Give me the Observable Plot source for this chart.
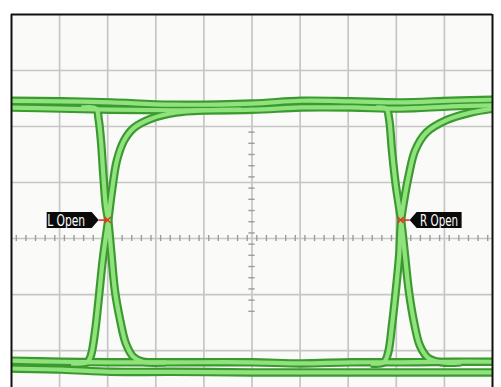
<!DOCTYPE html>
<html>
<head>
<meta charset="utf-8">
<script src="https://cdn.jsdelivr.net/npm/d3@7"></script>
<script src="https://cdn.jsdelivr.net/npm/@observablehq/plot@0.6"></script>
<style>
  html, body { margin: 0; padding: 0; background: #ffffff; }
  #chart svg { display: block; }
</style>
</head>
<body>
<div id="chart"></div>
<script>
// Screen coordinates in divisions (10 horizontal, centre = 0)
const gridX = [-4, -3, -2, -1, 0, 1, 2, 3, 4];
const gridY = [-2, -1, 0, 1, 2, 3];
const minorX = d3.range(-49, 50, 2).map(v => v / 10).filter(v => Math.abs(v - Math.round(v)) > 1e-6);
const minorY = d3.range(-13, 20, 2).map(v => v / 10).filter(v => Math.abs(v - Math.round(v)) > 1e-6);

// Eye-diagram traces (x, y in divisions)
const highA = [[-5.1,2.46],[-3.97,2.45],[-2.93,2.43],[-1.68,2.39],[0.0,2.41],[1.02,2.46],[2.06,2.45],[3.10,2.43],[4.14,2.46],[5.1,2.48]];
const highB = [[-5.1,2.34],[-3.97,2.32],[-2.93,2.30],[-1.68,2.29],[0.0,2.30],[1.02,2.34],[2.06,2.34],[3.10,2.32],[4.14,2.36],[5.1,2.38]];
const lowA  = [[-5.1,-2.18],[-3.97,-2.20],[-2.93,-2.21],[-1.68,-2.21],[0.0,-2.21],[1.02,-2.23],[2.06,-2.21],[3.10,-2.21],[4.14,-2.20],[5.1,-2.20]];
const lowB  = [[-5.1,-2.32],[-3.97,-2.34],[-2.93,-2.38],[-1.68,-2.38],[0.0,-2.39],[1.02,-2.39],[2.06,-2.39],[3.10,-2.39],[4.14,-2.39],[5.1,-2.39]];
const fallL = [[-3.55,2.34],[-3.24,2.32],[-3.19,2.14],[-3.14,1.75],[-3.09,1.13],[-3.04,0.59],[-2.99,0.32],[-2.93,-0.21],[-2.85,-0.93],[-2.74,-1.46],[-2.62,-1.88],[-2.47,-2.11],[-2.27,-2.20],[-1.79,-2.21]];
const riseL = [[-3.76,-2.23],[-3.43,-2.21],[-3.35,-2.09],[-3.26,-1.64],[-3.18,-1.02],[-3.10,-0.36],[-2.99,0.32],[-2.91,0.86],[-2.81,1.39],[-2.66,1.75],[-2.45,1.98],[-2.10,2.14],[-1.58,2.25],[-0.96,2.29],[-0.23,2.30]];
const fallR = [[2.58,2.34],[2.79,2.32],[2.85,2.14],[2.91,1.57],[2.99,0.95],[3.10,0.32],[3.18,-0.30],[3.26,-0.93],[3.37,-1.50],[3.49,-1.91],[3.66,-2.13],[3.93,-2.21],[4.35,-2.21]];
const riseR = [[2.47,-2.23],[2.74,-2.21],[2.83,-2.04],[2.91,-1.55],[2.99,-0.93],[3.06,-0.30],[3.10,0.32],[3.18,0.77],[3.26,1.13],[3.39,1.57],[3.62,1.89],[4.03,2.11],[4.55,2.25],[5.1,2.33]];

const traceNames = ["highA", "highB", "lowA", "lowB", "fallL", "riseL", "fallR", "riseR"];
const traceData = [highA, highB, lowA, lowB, fallL, riseL, fallR, riseR];
const traces = traceData.flatMap((pts, k) => pts.map(([x, y]) => ({trace: traceNames[k], x, y})));

// Eye-opening markers
const markerLabels = ["L Open", "R Open"];
const markerX = [-2.99, 3.10];
const markerY = [0.32, 0.32];
const markerSide = ["left", "right"];
const markers = markerLabels.map((label, i) => ({label, x: markerX[i], y: markerY[i], side: markerSide[i]}));

const xDomain = [-5, 5];
const yDomain = [-2.66, 4];

const DARK = "#3b9a2f";
const LIGHT = "#90e27c";

function calloutRender(index, scales, values) {
  const g = d3.create("svg:g");
  for (const i of index) {
    const d = markers[i];
    const px = values.x[i], py = values.y[i];
    const s = d.side === "left" ? -1 : 1;
    const tip = px + s * 9;
    const bodyNear = tip + s * 7;
    const bodyFar = tip + s * 52;
    const h = 8;
    g.append("line").attr("x1", px).attr("x2", tip).attr("y1", py).attr("y2", py)
      .attr("stroke", "#e8321e").attr("stroke-width", 1.6);
    g.append("path").attr("d", `M${px-3},${py-3}L${px+3},${py+3}M${px-3},${py+3}L${px+3},${py-3}`)
      .attr("stroke", "#e8321e").attr("stroke-width", 1.4);
    g.append("path")
      .attr("d", `M${tip},${py}L${bodyNear},${py-h}L${bodyFar},${py-h}L${bodyFar},${py+h}L${bodyNear},${py+h}Z`)
      .attr("fill", "#0a0a0a");
    g.append("text")
      .attr("x", (bodyNear + bodyFar) / 2 + (s < 0 ? -3 : 0))
      .attr("y", py)
      .attr("dy", "0.37em")
      .attr("text-anchor", "middle")
      .attr("fill", "#ffffff")
      .attr("font-family", "'DejaVu Sans', sans-serif")
      .attr("font-size", 15)
      .attr("textLength", 38)
      .attr("lengthAdjust", "spacingAndGlyphs")
      .text(d.label);
  }
  return g.node();
}

const chart = Plot.plot({
  width: 501,
  height: 387,
  marginTop: 14,
  marginLeft: 11,
  marginRight: 9,
  marginBottom: 0,
  x: {domain: xDomain, axis: null},
  y: {domain: yDomain, axis: null},
  style: {background: "#ffffff"},
  marks: [
    Plot.frame({fill: "#fafaf8", stroke: "none"}),
    Plot.ruleX(gridX, {stroke: "#c6c6c6", strokeWidth: 1.7}),
    Plot.ruleY(gridY, {stroke: "#c6c6c6", strokeWidth: 1.7}),
    Plot.ruleX(minorX, {y1: -0.055, y2: 0.055, stroke: "#9c9c9c", strokeWidth: 1.4}),
    Plot.ruleY(minorY, {x1: -0.065, x2: 0.065, stroke: "#9c9c9c", strokeWidth: 1.4}),
    Plot.line(traces, {x: "x", y: "y", z: "trace", stroke: DARK, strokeWidth: 8.5, curve: "catmull-rom", strokeLinejoin: "round", strokeLinecap: "butt", clip: true}),
    Plot.line(traces, {x: "x", y: "y", z: "trace", stroke: LIGHT, strokeWidth: 4.2, curve: "catmull-rom", strokeLinejoin: "round", strokeLinecap: "butt", clip: true}),
    Plot.ruleX(xDomain, {y1: yDomain[0], y2: yDomain[1], stroke: "#111111", strokeWidth: 2}),
    Plot.ruleY([yDomain[1]], {stroke: "#111111", strokeWidth: 2}),
    Plot.dot(markers, {x: "x", y: "y", render: calloutRender})
  ]
});
document.getElementById("chart").appendChild(chart);
</script>
</body>
</html>
